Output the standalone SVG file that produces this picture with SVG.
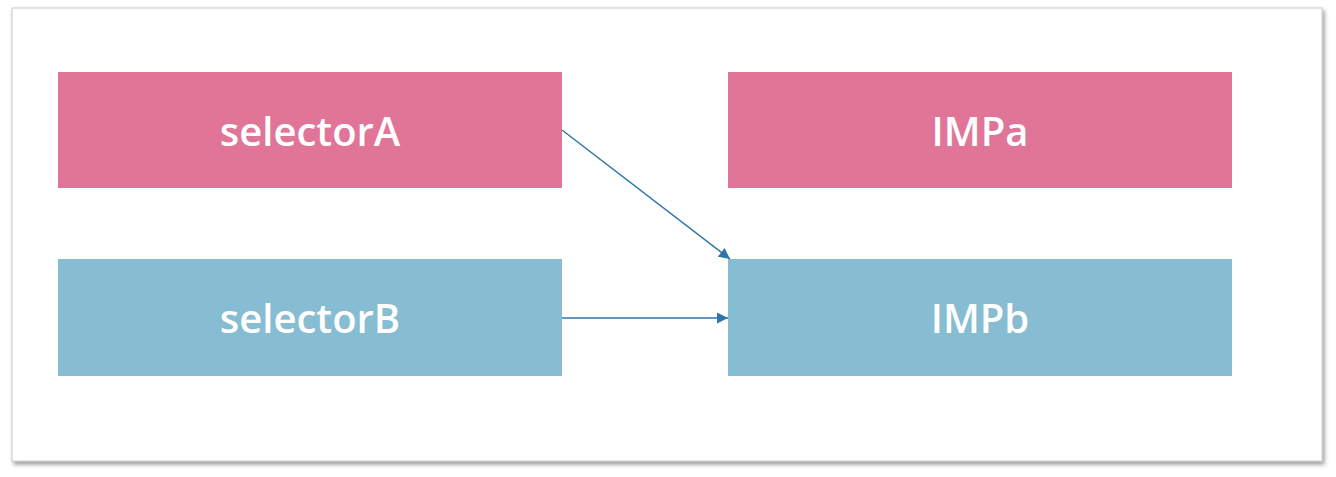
<svg xmlns="http://www.w3.org/2000/svg" width="1336" height="477" viewBox="0 0 1336 477">
<defs>
<style>
.pink{fill:#E07598}
.blue{fill:#86BDD2}
.lbl{font-family:"Open Sans",sans-serif;font-size:40px;font-weight:600;fill:#ffffff;text-anchor:middle}
.conn{stroke:#2F75A8;stroke-width:1.5;fill:none}
</style>
<marker id="ah" viewBox="0 0 10 10" refX="10" refY="5" markerWidth="12" markerHeight="11" markerUnits="userSpaceOnUse" orient="auto">
<path d="M0,0 L10,5 L0,10 z" fill="#2F75A8"/>
</marker>
<filter id="sh" x="-5%" y="-5%" width="110%" height="115%">
<feDropShadow dx="2" dy="3" stdDeviation="2" flood-color="#000" flood-opacity="0.4"/>
</filter>
</defs>
<rect x="0" y="0" width="1336" height="477" fill="#ffffff"/>
<rect x="12" y="8" width="1310" height="453" fill="#ffffff" stroke="#c8c8c8" stroke-width="1" filter="url(#sh)"/>
<g id="selectorA"><rect class="pink" x="58" y="72" width="504" height="116"/><text class="lbl" x="310" y="146">selectorA</text></g>
<g id="IMPa"><rect class="pink" x="728" y="72" width="504" height="116"/><text class="lbl" x="980" y="146">IMPa</text></g>
<g id="selectorB"><rect class="blue" x="58" y="259" width="504" height="117"/><text class="lbl" x="310" y="333">selectorB</text></g>
<g id="IMPb"><rect class="blue" x="728" y="259" width="504" height="117"/><text class="lbl" x="980" y="333">IMPb</text></g>
<g id="connectors">
<path class="conn" d="M562,130 L730,259" marker-end="url(#ah)"/>
<path class="conn" d="M562,318 L728,318" marker-end="url(#ah)"/>
</g>
</svg>
